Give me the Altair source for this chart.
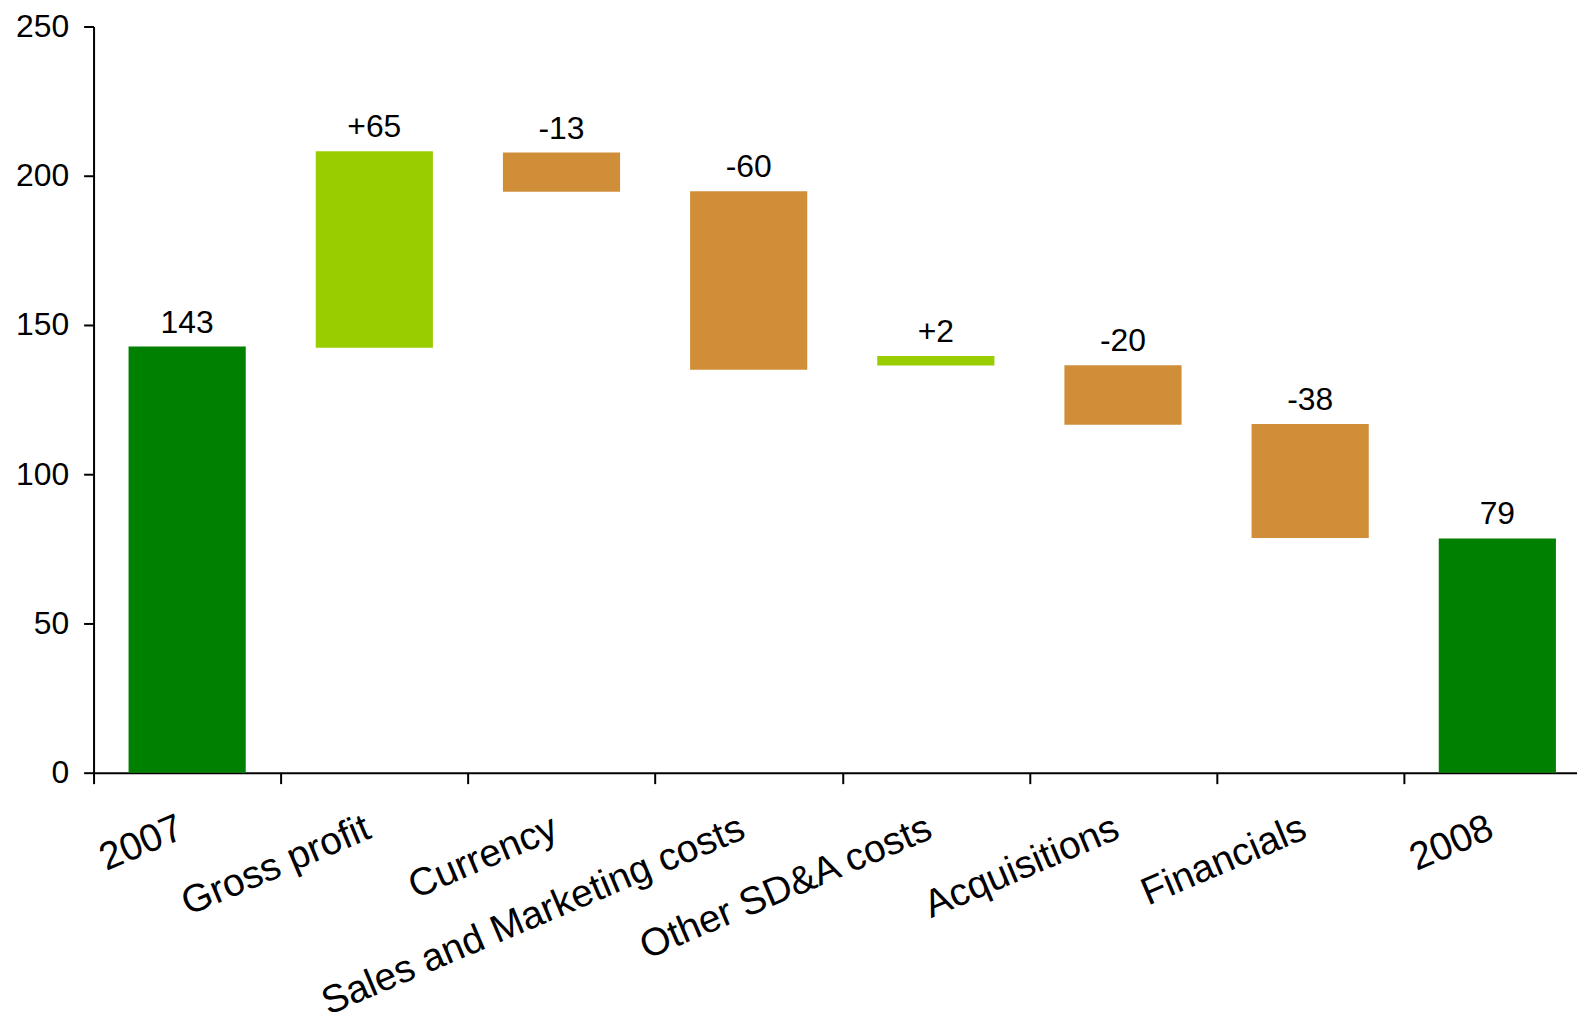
import altair as alt
import pandas as pd

categories = ["2007", "Gross profit", "Currency", "Sales and Marketing costs",
              "Other SD&A costs", "Acquisitions", "Financials", "2008"]
bar_low = [0, 142.4, 194.6, 135.0, 136.4, 116.6, 78.6, 0]
bar_high = [142.8, 208.2, 207.8, 194.8, 139.6, 136.5, 116.8, 78.5]
value_labels = ["143", "+65", "-13", "-60", "+2", "-20", "-38", "79"]
kinds = ["total", "increase", "decrease", "decrease", "increase", "decrease", "decrease", "total"]
kind_names = ["total", "increase", "decrease"]
kind_colors = ["#008000", "#9ACD00", "#D08E38"]
y_ticks = [0, 50, 100, 150, 200, 250]

df = pd.DataFrame({
    "category": categories,
    "low": bar_low,
    "high": bar_high,
    "label": value_labels,
    "kind": kinds,
})

FONT = "Liberation Sans"

x_enc = alt.X(
    "category:N",
    sort=categories,
    title=None,
    scale=alt.Scale(paddingInner=0, paddingOuter=0),
    axis=alt.Axis(
        labelAngle=-23,
        labelAlign="right",
        labelBaseline="top",
        labelFontSize=39,
        labelFont=FONT,
        labelColor="black",
        labelPadding=25,
        labelOffset=-14,
        labelOverlap=False,
        labelLimit=0,
        tickBand="extent",
        tickSize=11,
        tickWidth=2,
        tickColor="black",
        domainColor="black",
        domainWidth=2,
    ),
)

y_enc = alt.Y(
    "low:Q",
    title=None,
    scale=alt.Scale(domain=[0, 250], nice=False, zero=True),
    axis=alt.Axis(
        values=y_ticks,
        grid=False,
        labelFontSize=32,
        labelFont=FONT,
        labelColor="black",
        labelPadding=15,
        tickSize=10,
        tickWidth=2,
        tickColor="black",
        domainColor="black",
        domainWidth=2,
    ),
)

bars = alt.Chart(df).mark_bar(width=alt.RelativeBandSize(0.626)).encode(
    x=x_enc,
    y=y_enc,
    y2="high:Q",
    color=alt.Color("kind:N", scale=alt.Scale(domain=kind_names, range=kind_colors), legend=None),
)

texts = alt.Chart(df).mark_text(
    baseline="alphabetic", align="center", dy=-14, fontSize=32, font=FONT, color="black"
).encode(
    x=alt.X("category:N", sort=categories),
    y=alt.Y("high:Q"),
    text="label:N",
)

chart = (bars + texts).properties(
    width=1505,
    height=750,
    autosize=alt.AutoSizeParams(type="none"),
    padding={"left": 86, "top": 16, "right": -14, "bottom": 250},
    background="white",
).configure_view(stroke=None)

chart.save("out.html", embed_options={"renderer": "svg", "actions": False})
